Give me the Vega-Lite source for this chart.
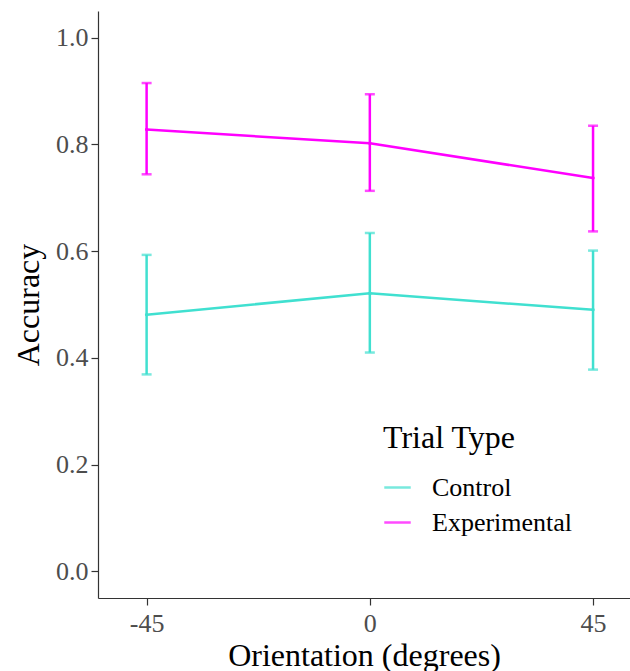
{
  "$schema": "https://vega.github.io/schema/vega-lite/v6.json",
  "autosize": {"type": "none"},
  "padding": {"left": 98, "top": 11, "right": 0, "bottom": 73},
  "width": 532,
  "height": 587,
  "background": "white",
  "config": {
    "view": {"stroke": null},
    "font": "Liberation Serif",
    "axis": {
      "domainColor": "#333333",
      "domainWidth": 1.2,
      "tickColor": "#333333",
      "tickWidth": 1.2,
      "tickSize": 7,
      "grid": false,
      "labelFont": "Liberation Serif",
      "labelFontSize": 26,
      "labelColor": "#4D4D4D",
      "titleFont": "Liberation Serif",
      "titleFontSize": 32,
      "titleFontWeight": "normal",
      "titleColor": "#000000"
    },
    "legend": {
      "labelFont": "Liberation Serif",
      "titleFont": "Liberation Serif"
    }
  },
  "data": {
    "values": [
      {"orientation": -45, "type": "Control", "mean": 0.481, "lo": 0.369, "hi": 0.593},
      {"orientation": 0, "type": "Control", "mean": 0.521, "lo": 0.410, "hi": 0.634},
      {"orientation": 45, "type": "Control", "mean": 0.490, "lo": 0.378, "hi": 0.601},
      {"orientation": -45, "type": "Experimental", "mean": 0.828, "lo": 0.744, "hi": 0.915},
      {"orientation": 0, "type": "Experimental", "mean": 0.802, "lo": 0.713, "hi": 0.894},
      {"orientation": 45, "type": "Experimental", "mean": 0.737, "lo": 0.637, "hi": 0.835}
    ]
  },
  "encoding": {
    "x": {
      "field": "orientation",
      "type": "quantitative",
      "scale": {"domain": [-54.8, 52.45], "nice": false, "zero": false},
      "axis": {"values": [-45, 0, 45], "labelExpr": "'' + datum.value", "title": "Orientation (degrees)", "labelPadding": 5, "titlePadding": 4}
    },
    "color": {
      "field": "type",
      "type": "nominal",
      "scale": {"domain": ["Control", "Experimental"], "range": ["#40E0D0", "#FF00FF"]},
      "legend": {
        "title": "Trial Type",
        "orient": "none",
        "legendX": 285,
        "legendY": 412,
        "symbolType": "stroke",
        "symbolStrokeWidth": 2.5,
        "symbolSize": 700,
        "titleFontSize": 32,
        "titleFontWeight": "normal",
        "titleColor": "#000000",
        "titlePadding": 18,
        "labelFontSize": 26,
        "labelColor": "#000000",
        "labelOffset": 20,
        "rowPadding": 7
      }
    }
  },
  "layer": [
    {
      "mark": {"type": "line", "strokeWidth": 2.5},
      "encoding": {
        "y": {
          "field": "mean",
          "type": "quantitative",
          "scale": {"domain": [-0.05, 1.05], "nice": false, "zero": false},
          "axis": {"values": [0, 0.2, 0.4, 0.6, 0.8, 1.0], "format": ".1f", "title": "Accuracy", "labelPadding": 3, "titlePadding": 10}
        }
      }
    },
    {
      "mark": {"type": "rule", "strokeWidth": 2.5},
      "encoding": {
        "y": {"field": "lo", "type": "quantitative"},
        "y2": {"field": "hi"}
      }
    },
    {
      "mark": {"type": "tick", "orient": "horizontal", "size": 10, "thickness": 2.5},
      "encoding": {
        "y": {"field": "lo", "type": "quantitative"}
      }
    },
    {
      "mark": {"type": "tick", "orient": "horizontal", "size": 10, "thickness": 2.5},
      "encoding": {
        "y": {"field": "hi", "type": "quantitative"}
      }
    },
    {
      "mark": {"type": "point", "filled": true, "size": 12, "opacity": 1},
      "encoding": {
        "y": {"field": "mean", "type": "quantitative"}
      }
    }
  ]
}
